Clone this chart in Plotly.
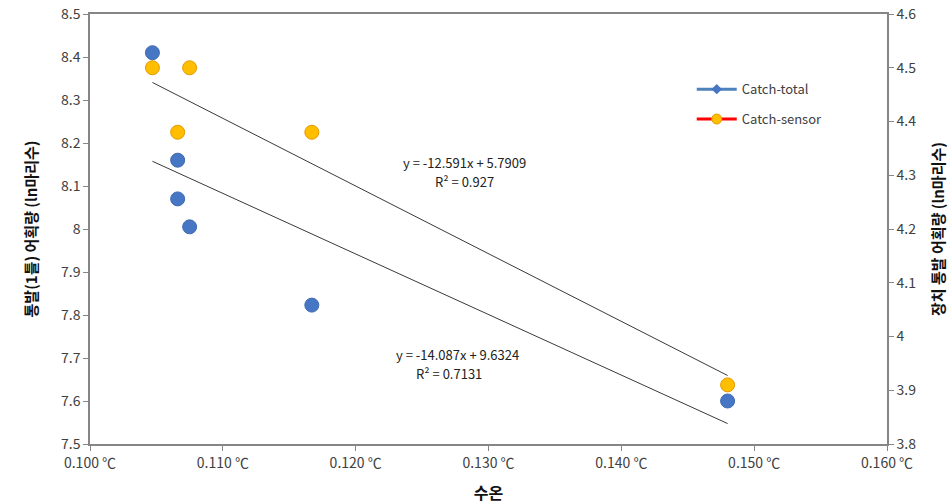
import plotly.graph_objects as go
import numpy as np

# Data
total_x = [0.1047, 0.1066, 0.1066, 0.1075, 0.1167, 0.1480]
total_y = [8.41, 8.16, 8.07, 8.005, 7.823, 7.60]
sensor_x = [0.1047, 0.1066, 0.1075, 0.1167, 0.1480]
sensor_y = [4.50, 4.38, 4.50, 4.38, 3.91]

# Trendline equations shown on the chart
total_fit = [-14.087, 9.6324]   # slope, intercept
total_r2 = 0.7131
sensor_fit = [-12.591, 5.7909]
sensor_r2 = 0.927

x_ticks = [0.100, 0.110, 0.120, 0.130, 0.140, 0.150, 0.160]
x_ticklabels = ["0.100 ℃", "0.110 ℃", "0.120 ℃", "0.130 ℃", "0.140 ℃", "0.150 ℃", "0.160 ℃"]
y1_ticks = [7.5, 7.6, 7.7, 7.8, 7.9, 8.0, 8.1, 8.2, 8.3, 8.4, 8.5]
y1_ticklabels = ["7.5", "7.6", "7.7", "7.8", "7.9", "8", "8.1", "8.2", "8.3", "8.4", "8.5"]
y2_ticks = [3.8, 3.9, 4.0, 4.1, 4.2, 4.3, 4.4, 4.5, 4.6]
y2_ticklabels = ["3.8", "3.9", "4", "4.1", "4.2", "4.3", "4.4", "4.5", "4.6"]

FONT = "Noto Sans CJK KR"
BLUE = "#4676C4"
ORANGE = "#FFBE00"
AXIS = "#868686"
TXT = "#404040"

fig = go.Figure()

# trendlines
tx = np.array([min(total_x), max(total_x)])
fig.add_trace(go.Scatter(x=tx, y=total_fit[0] * tx + total_fit[1], mode="lines",
                         line=dict(color="#3a3a3a", width=1), showlegend=False,
                         hoverinfo="skip", yaxis="y"))
sx = np.array([min(sensor_x), max(sensor_x)])
fig.add_trace(go.Scatter(x=sx, y=sensor_fit[0] * sx + sensor_fit[1], mode="lines",
                         line=dict(color="#3a3a3a", width=1), showlegend=False,
                         hoverinfo="skip", yaxis="y2"))

# data points
fig.add_trace(go.Scatter(x=total_x, y=total_y, mode="markers", name="Catch-total",
                         marker=dict(color=BLUE, size=14, line=dict(color="#3F69B0", width=1)),
                         showlegend=False, yaxis="y"))
fig.add_trace(go.Scatter(x=sensor_x, y=sensor_y, mode="markers", name="Catch-sensor",
                         marker=dict(color=ORANGE, size=14, line=dict(color="#E39B00", width=1)),
                         showlegend=False, yaxis="y2"))

# legend entries
fig.add_trace(go.Scatter(x=[None], y=[None], mode="lines+markers", name="Catch-total",
                         line=dict(color="#4F81BD", width=3),
                         marker=dict(color=BLUE, size=8, symbol="diamond"),
                         legendgroup="a"))
fig.add_trace(go.Scatter(x=[None], y=[None], mode="lines+markers", name="Catch-sensor",
                         line=dict(color="#FF0000", width=3),
                         marker=dict(color=ORANGE, size=10, line=dict(color="#E39B00", width=1)),
                         legendgroup="b"))

AFONT = dict(family=FONT, size=13, color="#222")
fig.add_annotation(x=0.1282, y=8.155, xref="x", yref="y", borderpad=0,
                   text=f"y = {sensor_fit[0]}x + {sensor_fit[1]}", showarrow=False, font=AFONT)
fig.add_annotation(x=0.1282, y=8.110, xref="x", yref="y", borderpad=0,
                   text=f"R² = {sensor_r2}", showarrow=False, font=AFONT)
fig.add_annotation(x=0.1277, y=7.709, xref="x", yref="y", borderpad=0,
                   text=f"y = {total_fit[0]}x + {total_fit[1]}", showarrow=False, font=AFONT)
fig.add_annotation(x=0.1270, y=7.664, xref="x", yref="y", borderpad=0,
                   text=f"R² = {total_r2}", showarrow=False, font=AFONT)

fig.update_layout(
    width=951, height=504,
    margin=dict(l=90, r=64, t=14, b=60),
    paper_bgcolor="white", plot_bgcolor="white",
    font=dict(family=FONT, size=13, color=TXT),
    xaxis=dict(range=[0.100, 0.160], tickvals=x_ticks, ticktext=x_ticklabels,
               showgrid=False, zeroline=False, showline=True, linecolor=AXIS, linewidth=1.5,
               mirror=True, ticks="outside", tickcolor=AXIS, ticklen=5, automargin=False,
               title=dict(text="<b>수온</b>", font=dict(family=FONT, size=16, color="#111"), standoff=18),
               tickfont=dict(family=FONT, size=14, color=TXT)),
    yaxis=dict(range=[7.5, 8.5], tickvals=y1_ticks, ticktext=y1_ticklabels,
               showgrid=False, zeroline=False, showline=True, linecolor=AXIS, linewidth=1.5,
               ticks="outside", tickcolor=AXIS, ticklen=5, automargin=False,
               title=dict(text="<b>통발(1틀) 어획량 (ln마리수)</b>",
                          font=dict(family=FONT, size=15, color="#111"), standoff=20),
               tickfont=dict(family=FONT, size=14, color=TXT)),
    yaxis2=dict(range=[3.8, 4.6], tickvals=y2_ticks, ticktext=y2_ticklabels,
                overlaying="y", side="right",
                showgrid=False, zeroline=False, showline=True, linecolor=AXIS, linewidth=1.5,
                ticks="outside", tickcolor=AXIS, ticklen=5, automargin=False,
                title=dict(text="<b>장치 통발 어획량 (ln마리수)</b>",
                           font=dict(family=FONT, size=15, color="#111"), standoff=18),
                tickfont=dict(family=FONT, size=14, color=TXT)),
    legend=dict(x=0.755, y=0.86, xanchor="left", yanchor="top", bgcolor="rgba(0,0,0,0)",
                font=dict(family=FONT, size=13, color=TXT), tracegroupgap=10,
                itemwidth=40),
    showlegend=True,
)

fig.write_html("out.html")
